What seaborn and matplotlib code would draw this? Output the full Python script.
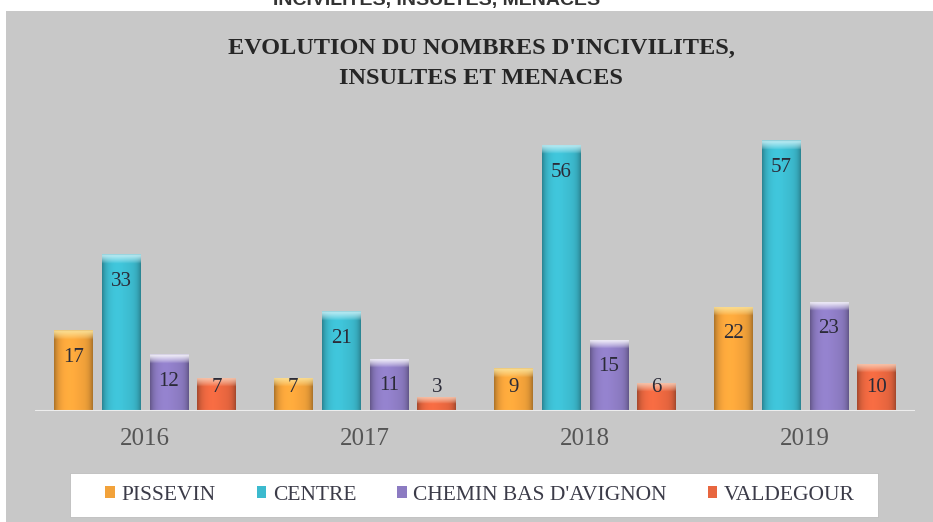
import numpy as np
import pandas as pd
import matplotlib
matplotlib.use("Agg")
import matplotlib.pyplot as plt
import matplotlib.colors as mcolors
from matplotlib.patches import Rectangle
import seaborn as sns

# --- data -------------------------------------------------------------
years = ["2016", "2017", "2018", "2019"]
quartiers = ["PISSEVIN", "CENTRE", "CHEMIN BAS D'AVIGNON", "VALDEGOUR"]
pissevin = [17, 7, 9, 22]
centre = [33, 21, 56, 57]
chemin_bas = [12, 11, 15, 23]
valdegour = [7, 3, 6, 10]

title_lines = ["EVOLUTION DU NOMBRES D'INCIVILITES,", "INSULTES ET MENACES"]
header = "INCIVILITES, INSULTES, MENACES"

# body colour and lighter bevel colour for each district
colors = ["#F2A23A", "#3CBACE", "#8C7BC2", "#E8663F"]
caps = ["#FBE39A", "#C4EEF5", "#FAF9FD", "#F8CDB6"]

rows = []
for q, vals in zip(quartiers, [pissevin, centre, chemin_bas, valdegour]):
    for y, v in zip(years, vals):
        rows.append({"annee": y, "quartier": q, "nombre": v})
df = pd.DataFrame(rows)

sns.set_theme(style="white")
plt.rcParams["font.family"] = ["Liberation Serif", "DejaVu Serif"]

W, H = 933, 522
fig = plt.figure(figsize=(W / 100, H / 100), dpi=100)
fig.patch.set_facecolor("white")

# grey chart area and white legend box
fig.add_artist(Rectangle((6 / W, 0), 1, (H - 11) / H, transform=fig.transFigure,
                         facecolor="#c8c8c8", edgecolor="none", zorder=-2))
fig.add_artist(Rectangle((70 / W, 5 / H), 808 / W, 44 / H, transform=fig.transFigure,
                         facecolor="white", edgecolor="#bdbdbd", lw=0.6, zorder=-1))

ax = fig.add_axes([35 / W, 111 / H, 880 / W, 285 / H])
ax.set_facecolor("none")

sns.barplot(data=df, x="annee", y="nombre", hue="quartier", order=years,
            hue_order=quartiers, palette=colors, saturation=1, width=0.87,
            gap=0.19, linewidth=0, errorbar=None, ax=ax)

handles, labels = ax.get_legend_handles_labels()
if ax.get_legend() is not None:
    ax.get_legend().remove()


def bevel(bar, base, cap):
    """Overlay a bevelled shading on a bar, clipped to its shape."""
    x0, w, h = bar.get_x(), bar.get_width(), bar.get_height()
    nx, ny = 80, 300
    t = np.linspace(0, 1, nx)
    prof = (1 - 0.30 * np.abs(2 * t - 1) ** 5
            + 0.07 * np.exp(-((t - 0.4) / 0.25) ** 2))
    base_rgb = np.array(mcolors.to_rgb(base))
    cap_rgb = np.array(mcolors.to_rgb(cap))
    img = np.clip(base_rgb[None, None, :] * prof[None, :, None], 0, 1)
    img = np.repeat(img, ny, axis=0)
    s = np.linspace(0, 1, ny)
    frac = min(1.9 / h, 0.5)
    wcap = np.clip(1 - s / frac, 0, 1) ** 0.8
    # slight darker rim at the very top edge
    rim = np.clip(1 - s / (0.25 / h), 0, 1) * 0.35
    img = img * (1 - wcap[:, None, None]) + cap_rgb[None, None, :] * wcap[:, None, None]
    img = img * (1 - rim[:, None, None]) + base_rgb[None, None, :] * 0.8 * rim[:, None, None]
    im = ax.imshow(np.clip(img, 0, 1), extent=(x0, x0 + w, 0, h), aspect="auto",
                   origin="upper", interpolation="bilinear",
                   zorder=bar.get_zorder() + 0.1)
    im.set_clip_path(bar)


for cont, base, cap in zip(ax.containers, colors, caps):
    for bar, v in zip(cont, cont.datavalues):
        bevel(bar, base, cap)
        cx = bar.get_x() + bar.get_width() / 2
        ly = max(v - 5.7, 4.85)
        ax.text(cx, ly, f"{int(v)}", ha="center", va="center", fontsize=15,
                color="#2b2b38", zorder=6)

ax.set_xlim(-0.5, 3.5)
ax.set_ylim(0, 60)
ax.axhline(0, color="#ededed", lw=2.2, zorder=4)
ax.set_xlabel("")
ax.set_ylabel("")
ax.set_yticks([])
ax.tick_params(axis="x", length=0, pad=12, labelsize=18, labelcolor="#555555")
for sp in ax.spines.values():
    sp.set_visible(False)

# titles
fig.text(481 / W, 1 - 48 / H, title_lines[0], ha="center", va="center",
         fontsize=17.5, fontweight="bold", color="#262626")
fig.text(481 / W, 1 - 78 / H, title_lines[1], ha="center", va="center",
         fontsize=17.5, fontweight="bold", color="#262626")
fig.text(437 / W, 1 - 5 / H, header, ha="center", va="baseline", fontsize=14,
         fontweight="bold", family="Liberation Sans", color="#333333")

fig.legend(handles, labels, loc="center", bbox_to_anchor=(480 / W, 27 / H),
           ncol=4, frameon=False, handlelength=0.45, handleheight=0.45,
           handletextpad=0.3, columnspacing=1.9,
           prop={"family": "Liberation Serif", "size": 15.5},
           labelcolor="#3b3b48")

fig.savefig("out.png", dpi=100)
